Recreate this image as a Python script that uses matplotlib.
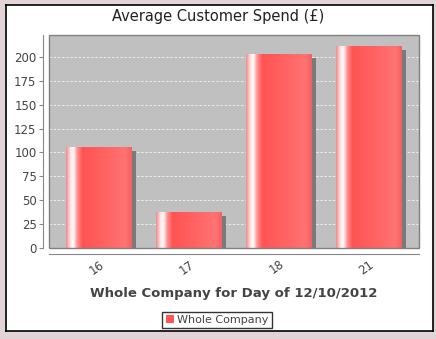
import matplotlib
matplotlib.use("Agg")
import matplotlib.pyplot as plt
import matplotlib.patheffects as pe
from matplotlib.colors import LinearSegmentedColormap
from matplotlib.patches import Rectangle
import numpy as np

# ── Data ──────────────────────────────────────────────────────────────────────
DAYS = ["16", "17", "18", "21"]
SPEND = [106, 38, 203, 212]
SERIES = "Whole Company"

TITLE = "Average Customer Spend (£)"
XLABEL = "Whole Company for Day of 12/10/2012"

W, H = 436, 339
BG = "#e2d3d6"
PLOT_BG = "#c0c0c0"
TEXT = "#444444"

# gradient across each bar (left -> right)
bar_cmap = LinearSegmentedColormap.from_list("bar", [
    (0.00, "#f08a8a"),
    (0.07, "#ffe8e8"),
    (0.11, "#ffffff"),
    (0.17, "#ff9090"),
    (0.25, "#ff5353"),
    (0.60, "#ff6363"),
    (0.90, "#ff7373"),
    (1.00, "#f56060"),
])

fig = plt.figure(figsize=(W / 100, H / 100), dpi=100)
fig.patch.set_facecolor(BG)

# white panel with black border (background axes)
panel = fig.add_axes([6 / W, 1 - 331 / H, 427 / W, 326 / H], zorder=0)
panel.set_facecolor("white")
panel.set_xticks([])
panel.set_yticks([])
for s in panel.spines.values():
    s.set_color("black")
    s.set_linewidth(1.2)

ax = fig.add_axes([49 / W, 1 - 248 / H, 370 / W, 213 / H], zorder=1)
ax.set_facecolor(PLOT_BG)

x = np.arange(len(DAYS))
BAR_W = 0.733
bars = ax.bar(x, SPEND, BAR_W, color="#ff5a5a", zorder=3,
              path_effects=[pe.SimplePatchShadow(offset=(3, -3), shadow_rgbFace="#7a7a7a", alpha=1.0),
                            pe.Normal()])

grad = np.linspace(0, 1, 256).reshape(1, -1)
for b in bars:
    im = ax.imshow(grad, cmap=bar_cmap, aspect="auto", zorder=4,
                   extent=[b.get_x(), b.get_x() + b.get_width(), 0, b.get_height()])
    im.set_clip_path(b)

ax.set_xlim(-0.556, len(DAYS) - 1 + 0.556)
ax.set_ylim(0, 223)
ax.set_yticks(range(0, 201, 25))
ax.grid(axis="y", color="#f4f4f4", linestyle=(0, (3, 2)), linewidth=0.6, zorder=1)
ax.set_axisbelow(True)

for s in ["top", "right"]:
    ax.spines[s].set_visible(False)
ax.spines["left"].set_position(("outward", 4))
ax.spines["bottom"].set_position(("outward", 4))
ax.spines["left"].set_color("#888888")
ax.spines["bottom"].set_color("#888888")
ax.add_patch(Rectangle((0, 0), 1, 1, transform=ax.transAxes, fill=False,
                       edgecolor="#808080", linewidth=1, zorder=5, clip_on=False))

ax.set_xticks(x)
ax.set_xticklabels(DAYS, rotation=35, ha="right", rotation_mode="anchor")
ax.tick_params(axis="x", length=0, pad=3, labelsize=8.5, labelcolor=TEXT)
ax.tick_params(axis="y", length=3, color="#888888", labelsize=8.5, labelcolor=TEXT, pad=2)

fig.text(218 / W, 1 - 17 / H, TITLE, ha="center", va="center", fontsize=10.5, color="#222222")
fig.text(234 / W, 1 - 293 / H, XLABEL, ha="center", va="center",
         fontsize=9.5, fontweight="bold", color=TEXT)

leg = fig.legend([Rectangle((0, 0), 1, 1, facecolor="#ff5555")], [SERIES],
                 loc="center", bbox_to_anchor=(217 / W, 1 - 320 / H),
                 fontsize=8, frameon=True, fancybox=False, handlelength=0.7,
                 handleheight=0.7, handletextpad=0.3, borderpad=0.3)
leg.get_frame().set_edgecolor("black")
leg.get_frame().set_linewidth(1)
for t in leg.get_texts():
    t.set_color(TEXT)

fig.savefig("out.png", dpi=100, facecolor=BG)
